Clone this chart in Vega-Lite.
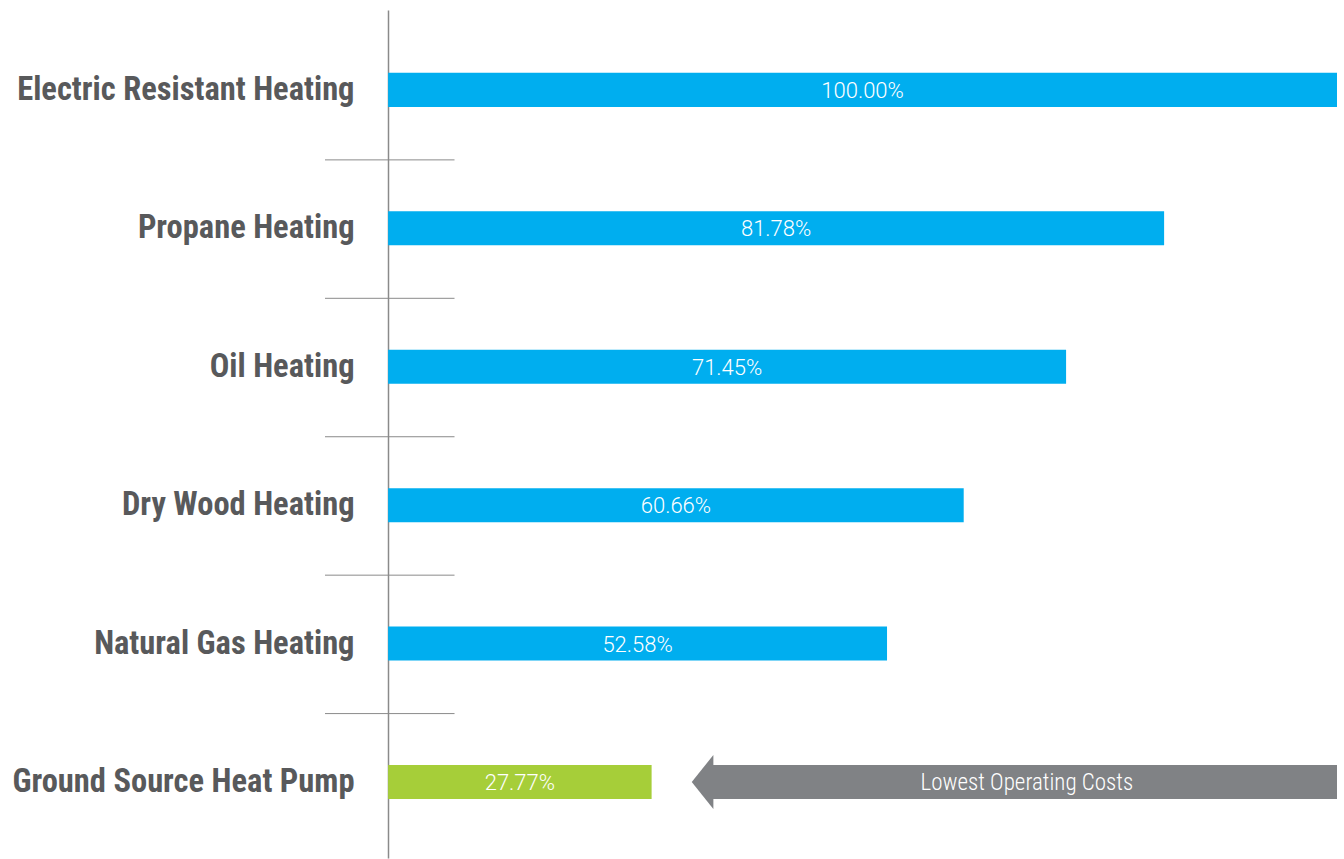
{
  "$schema": "https://vega.github.io/schema/vega-lite/v6.json",
  "width": 1012,
  "height": 848,
  "autosize": {"type": "none"},
  "padding": {"left": 325, "top": 10, "right": 7, "bottom": 1},
  "background": "white",
  "config": {"view": {"stroke": null}},
  "datasets": {
    "costs": [
      {"system": "Electric Resistant Heating", "pct": 100.00, "label": "100.00%", "type": "conventional"},
      {"system": "Propane Heating", "pct": 81.78, "label": "81.78%", "type": "conventional"},
      {"system": "Oil Heating", "pct": 71.45, "label": "71.45%", "type": "conventional"},
      {"system": "Dry Wood Heating", "pct": 60.66, "label": "60.66%", "type": "conventional"},
      {"system": "Natural Gas Heating", "pct": 52.58, "label": "52.58%", "type": "conventional"},
      {"system": "Ground Source Heat Pump", "pct": 27.77, "label": "27.77%", "type": "geothermal"}
    ],
    "callout": [
      {"system": "Ground Source Heat Pump", "tip": 32, "start": 34, "end": 100, "note": "Lowest Operating Costs"}
    ]
  },
  "encoding": {
    "y": {
      "field": "system",
      "type": "nominal",
      "sort": null,
      "scale": {
        "domain": ["Electric Resistant Heating", "Propane Heating", "Oil Heating", "Dry Wood Heating", "Natural Gas Heating", "Ground Source Heat Pump"],
        "paddingInner": 0.754,
        "paddingOuter": 0.44,
        "align": 0.516
      },
      "axis": {
        "title": null,
        "offset": -63,
        "ticks": false,
        "grid": false,
        "domain": true,
        "domainColor": "#8a8a8a",
        "domainWidth": 1.5,
        "labelPadding": 34,
        "labelFont": "'Roboto Condensed', 'DejaVu Sans Condensed', sans-serif",
        "labelFontWeight": "bold",
        "labelFontSize": 32.5,
        "labelColor": "#58595b",
        "labelLimit": 400
      }
    }
  },
  "layer": [
    {
      "data": {"name": "costs"},
      "transform": [{"filter": "datum.type == 'conventional'"}],
      "mark": {"type": "rule", "yOffset": 70, "color": "#8a8a8a", "strokeWidth": 1},
      "encoding": {
        "x": {"datum": -6.65, "type": "quantitative", "scale": {"domain": [-6.65, 100], "nice": false, "zero": false}, "axis": null},
        "x2": {"datum": 7}
      }
    },
    {
      "data": {"name": "costs"},
      "mark": {"type": "bar"},
      "encoding": {
        "x": {"field": "pct", "type": "quantitative", "axis": null},
        "color": {"field": "type", "type": "nominal", "scale": {"domain": ["conventional", "geothermal"], "range": ["#00aeef", "#a6ce39"]}, "legend": null}
      }
    },
    {
      "data": {"name": "costs"},
      "transform": [{"calculate": "datum.pct / 2", "as": "mid"}],
      "mark": {"type": "text", "color": "white", "font": "Roboto", "fontWeight": 300, "fontSize": 22, "baseline": "middle", "align": "center", "dy": 1},
      "encoding": {
        "x": {"field": "mid", "type": "quantitative"},
        "text": {"field": "label"}
      }
    },
    {
      "data": {"name": "callout"},
      "mark": {"type": "bar", "color": "#808285"},
      "encoding": {
        "x": {"field": "start", "type": "quantitative"},
        "x2": {"field": "end"}
      }
    },
    {
      "data": {"name": "callout"},
      "mark": {"type": "point", "shape": "M0,0L0.8,-1L0.8,1Z", "size": 2916, "filled": true, "color": "#808285", "opacity": 1, "strokeWidth": 0},
      "encoding": {
        "x": {"field": "tip", "type": "quantitative"}
      }
    },
    {
      "data": {"name": "callout"},
      "transform": [{"calculate": "(datum.start + datum.end) / 2", "as": "mid"}],
      "mark": {"type": "text", "color": "white", "font": "'Roboto Condensed', Roboto, sans-serif", "fontWeight": 300, "fontSize": 23, "baseline": "middle", "align": "center", "dx": 3, "dy": 1},
      "encoding": {
        "x": {"field": "mid", "type": "quantitative"},
        "text": {"field": "note"}
      }
    }
  ]
}
